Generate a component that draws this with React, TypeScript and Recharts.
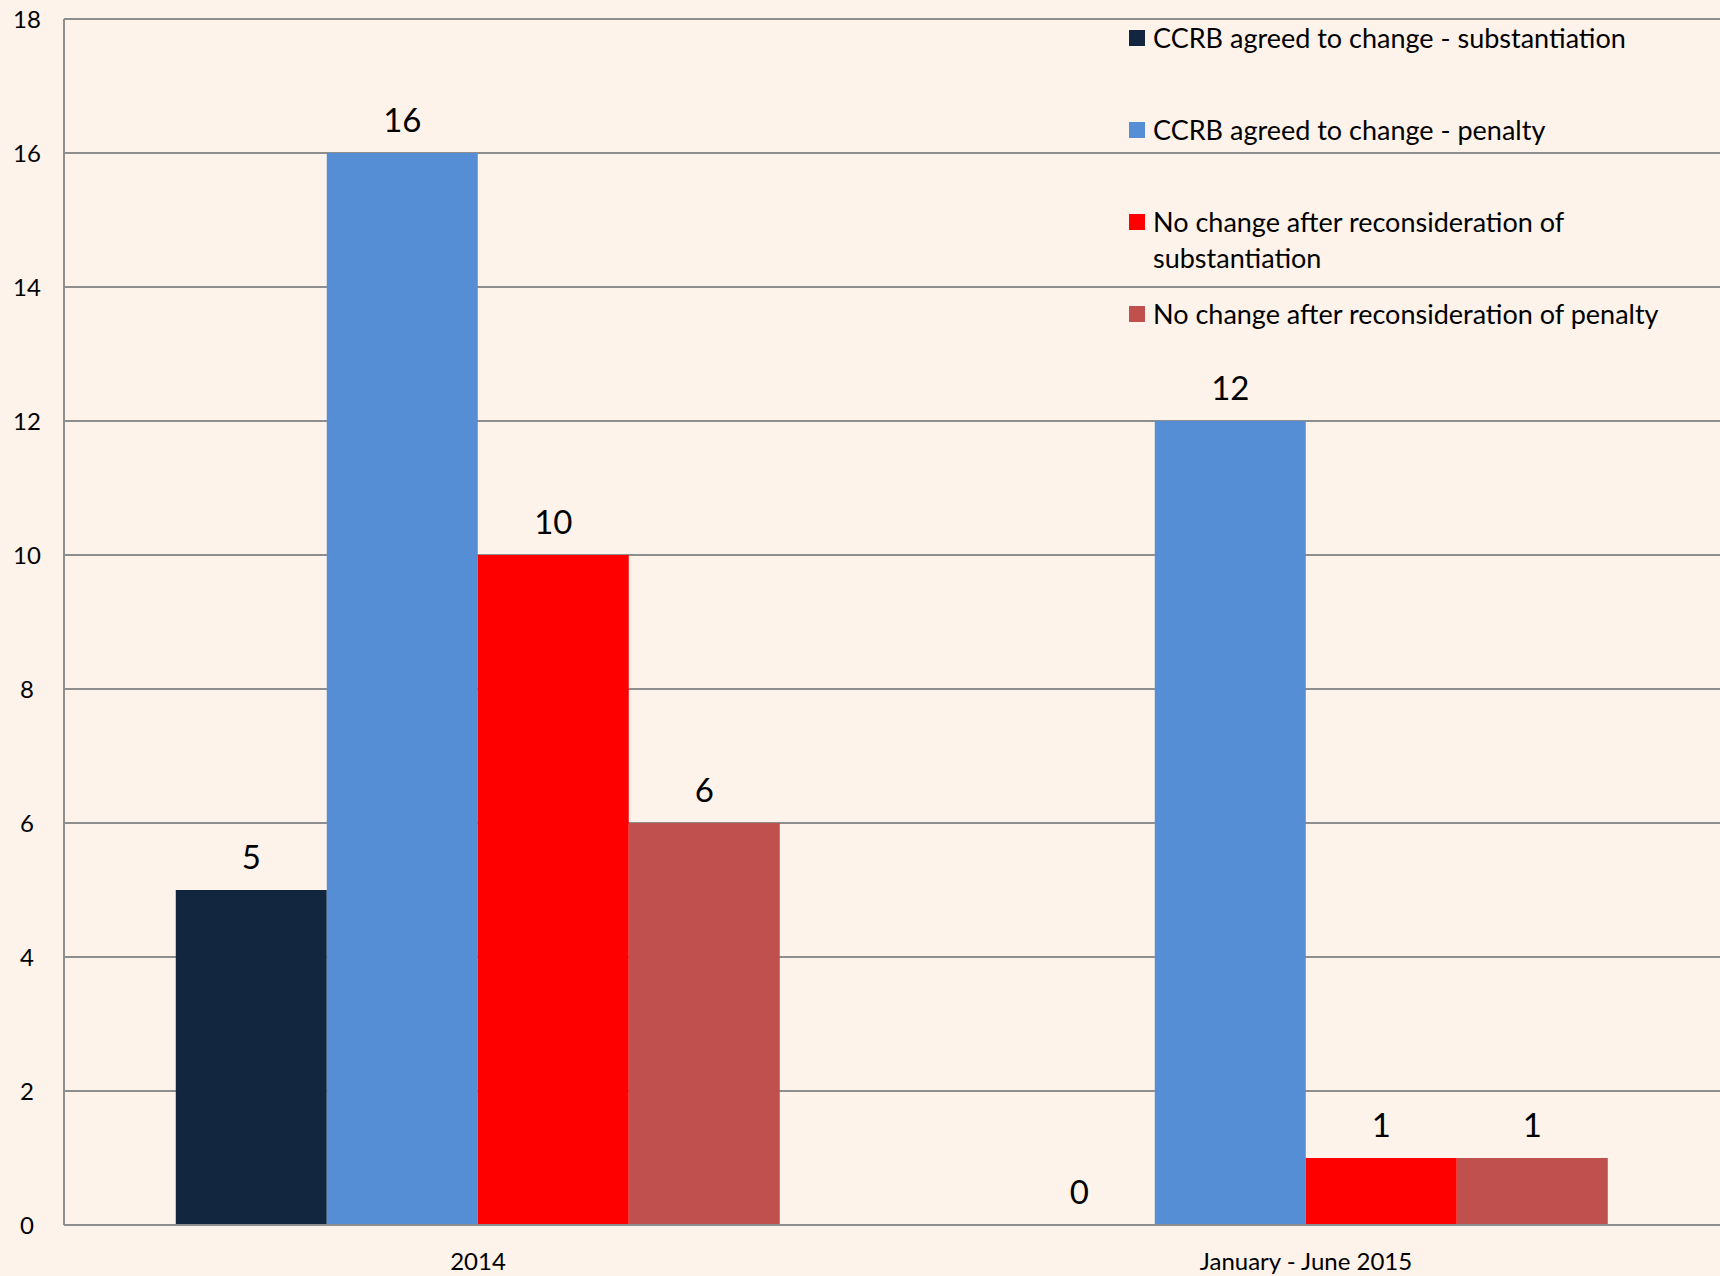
import React from 'react';
import { BarChart, Bar, XAxis, YAxis, CartesianGrid, Legend, LabelList } from 'recharts';

// values
const categories = ['2014', 'January - June 2015'];
const agreedSubstantiation = [5, 0];
const agreedPenalty = [16, 12];
const noChangeSubstantiation = [10, 1];
const noChangePenalty = [6, 1];
const yTicks = [0, 2, 4, 6, 8, 10, 12, 14, 16, 18];

const seriesNames = [
  'CCRB agreed to change - substantiation',
  'CCRB agreed to change - penalty',
  'No change after reconsideration of substantiation',
  'No change after reconsideration of penalty',
];
const seriesColors = ['#12263F', '#558ED5', '#FF0000', '#C0504D'];
const seriesKeys = ['agreedSub', 'agreedPen', 'noChangeSub', 'noChangePen'];

const data = categories.map((name, i) => ({
  name,
  agreedSub: agreedSubstantiation[i],
  agreedPen: agreedPenalty[i],
  noChangeSub: noChangeSubstantiation[i],
  noChangePen: noChangePenalty[i],
}));

const BG = '#FEF3EA';
const GRID = '#8E8E8E';
const FONT = 'Lato, "Open Sans", sans-serif';

const YTick = (props: any) => {
  const { y, payload } = props;
  return (
    <text x={27} y={y} dy="0.36em" textAnchor="middle" fontSize={24} fill="#000">
      {payload.value}
    </text>
  );
};

const XTick = (props: any) => {
  const { x, y, payload } = props;
  return (
    <text x={x} y={y + 45} textAnchor="middle" fontSize={24} fill="#000">
      {payload.value}
    </text>
  );
};

// value above each bar, also drawn for zero-height bars
const ValueLabel = (props: any) => {
  const { x, y, width, value } = props;
  return (
    <text x={Number(x) + Number(width) / 2} y={Number(y) - 21} textAnchor="middle" fontSize={33} fill="#000">
      {value}
    </text>
  );
};

const renderLegend = () => (
  <div style={{ fontFamily: FONT, fontSize: 27, color: '#000', lineHeight: '36px' }}>
    {seriesNames.map((n, i) => (
      <div key={n} style={{ display: 'flex', alignItems: 'flex-start', height: 92 }}>
        <span
          style={{
            display: 'inline-block',
            width: 16,
            height: 16,
            marginTop: 10,
            marginRight: 8,
            background: seriesColors[i],
            flexShrink: 0,
          }}
        />
        <span style={{ maxWidth: 530 }}>{n}</span>
      </div>
    ))}
  </div>
);

export default function App() {
  return (
    <div style={{ position: 'absolute', left: 0, top: 0, width: 1720, height: 1276, background: BG, fontFamily: FONT }}>
      <BarChart
        width={1720}
        height={1276}
        data={data}
        margin={{ top: 19, right: 0, left: 0, bottom: 0 }}
        barCategoryGap="13.5%"
        barGap={0}
      >
        <CartesianGrid vertical={false} stroke={GRID} strokeWidth={2} />
        <XAxis
          dataKey="name"
          height={51}
          tickSize={0}
          tickMargin={0}
          tick={<XTick />}
          axisLine={{ stroke: GRID, strokeWidth: 2 }}
          tickLine={false}
        />
        <YAxis
          width={64}
          domain={[0, 18]}
          ticks={yTicks}
          interval={0}
          tick={<YTick />}
          tickLine={false}
          axisLine={{ stroke: GRID, strokeWidth: 2 }}
        />
        <Legend
          layout="horizontal"
          verticalAlign="middle"
          align="center"
          content={renderLegend}
          wrapperStyle={{ position: 'absolute', top: 20, left: 1129, width: 585 }}
        />
        {seriesKeys.map((k, i) => (
          <Bar
            key={k}
            dataKey={k}
            name={seriesNames[i]}
            fill={seriesColors[i]}
            minPointSize={0.01}
            isAnimationActive={false}
          >
            <LabelList dataKey={k} content={<ValueLabel />} />
          </Bar>
        ))}
      </BarChart>
    </div>
  );
}
